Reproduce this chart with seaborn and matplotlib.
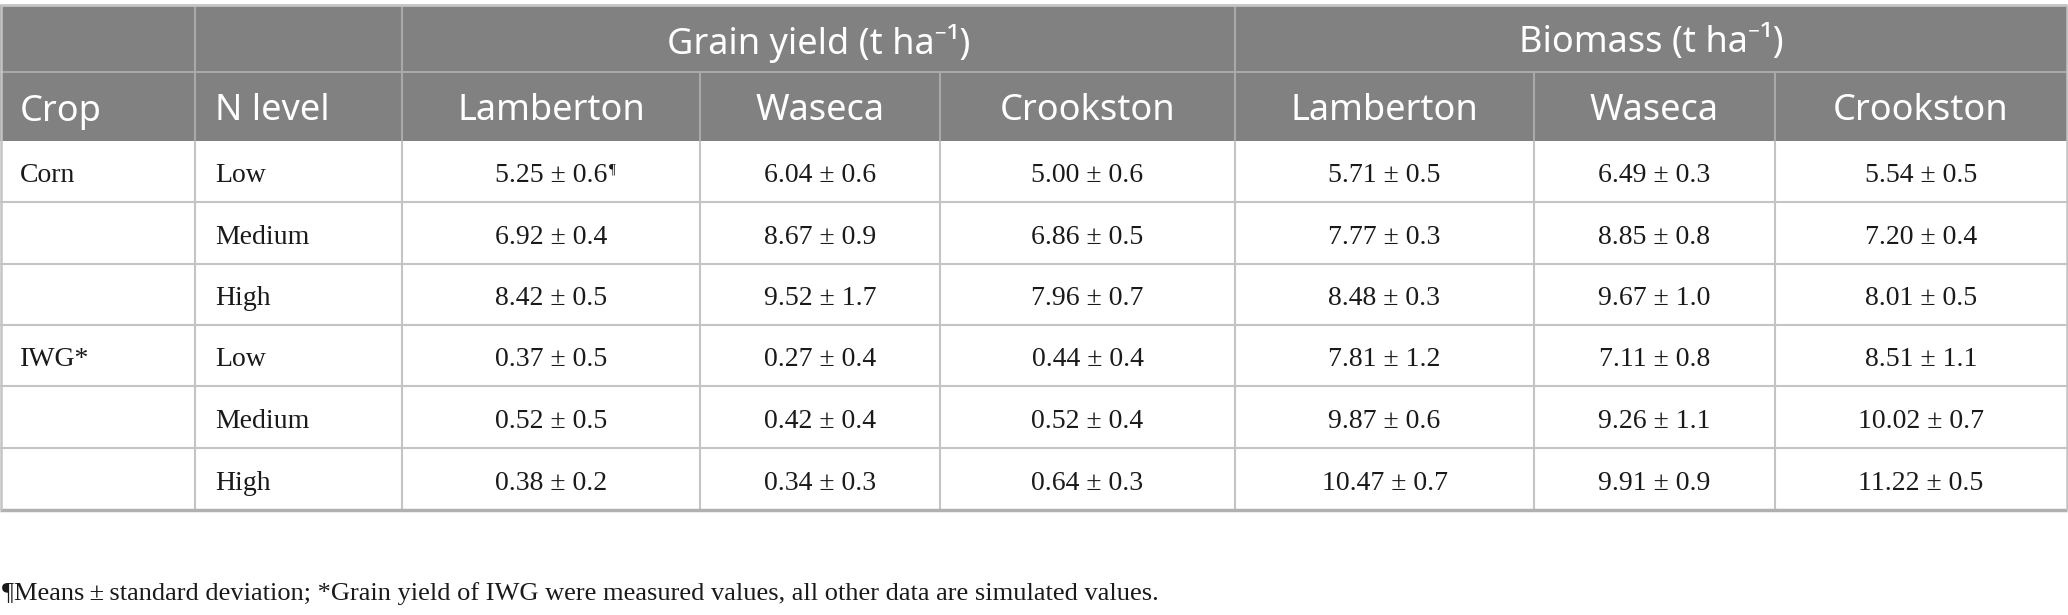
import matplotlib
matplotlib.use("Agg")
import matplotlib.pyplot as plt
import seaborn as sns

# ---- table content ----
crops = ["Corn", "", "", "IWG*", "", ""]
n_levels = ["Low", "Medium", "High", "Low", "Medium", "High"]
sites = ["Lamberton", "Waseca", "Crookston"]
groups = ["Grain yield (t ha\u207b\u00b9)", "Biomass (t ha\u207b\u00b9)"]

grain_mean = [[5.25, 6.04, 5.00],
              [6.92, 8.67, 6.86],
              [8.42, 9.52, 7.96],
              [0.37, 0.27, 0.44],
              [0.52, 0.42, 0.52],
              [0.38, 0.34, 0.64]]
grain_sd = [[0.6, 0.6, 0.6],
            [0.4, 0.9, 0.5],
            [0.5, 1.7, 0.7],
            [0.5, 0.4, 0.4],
            [0.5, 0.4, 0.4],
            [0.2, 0.3, 0.3]]
biomass_mean = [[5.71, 6.49, 5.54],
                [7.77, 8.85, 7.20],
                [8.48, 9.67, 8.01],
                [7.81, 7.11, 8.51],
                [9.87, 9.26, 10.02],
                [10.47, 9.91, 11.22]]
biomass_sd = [[0.5, 0.3, 0.5],
              [0.3, 0.8, 0.4],
              [0.3, 1.0, 0.5],
              [1.2, 0.8, 1.1],
              [0.6, 1.1, 0.7],
              [0.7, 0.9, 0.5]]

footnote = ("\u00b6Means\u2009\u00b1\u2009standard deviation; *Grain yield of IWG were "
            "measured values, all other data are simulated values.")

# ---- layout (pixels) ----
W, H = 2068, 615
col_edges = [0, 195, 402, 700, 940, 1235, 1534, 1775, 2067]
row_edges = [5, 72, 141, 202, 264, 325, 386, 448, 510]

header_bg = "#808180"
header_line = "#a8a9a8"
body_line = "#c4c4c4"

sns.set_theme(style="white")
sans = ["Noto Sans", "DejaVu Sans"]
serif = ["Liberation Serif", "DejaVu Serif"]

fig = plt.figure(figsize=(W / 100, H / 100), dpi=100)
ax = fig.add_axes([0, 0, 1, 1])
ax.set_xlim(0, W)
ax.set_ylim(H, 0)
ax.axis("off")

# header background
ax.add_patch(plt.Rectangle((col_edges[0], row_edges[0]), col_edges[-1] - col_edges[0],
                           row_edges[2] - row_edges[0], color=header_bg, lw=0))

# header lines
ax.hlines(row_edges[1], col_edges[0], col_edges[-1], color=header_line, lw=1.5)
for x in [col_edges[1], col_edges[2], col_edges[5]]:
    ax.vlines(x, row_edges[0], row_edges[2], color=header_line, lw=1.5)
for x in [col_edges[3], col_edges[4], col_edges[6], col_edges[7]]:
    ax.vlines(x, row_edges[1], row_edges[2], color=header_line, lw=1.5)

# body lines
for y in row_edges[3:-1]:
    ax.hlines(y, col_edges[0], col_edges[-1], color=body_line, lw=1.5)
for x in col_edges[1:-1]:
    ax.vlines(x, row_edges[2], row_edges[-1], color=body_line, lw=1.5)
# outer border
ax.hlines(row_edges[0], col_edges[0], col_edges[-1], color=body_line, lw=2)
ax.hlines(row_edges[-1], col_edges[0], col_edges[-1], color="#b0b0b0", lw=2.5)
ax.vlines([col_edges[0] + 0.8, col_edges[-1]], row_edges[0], row_edges[-1], color=body_line, lw=1.8)

pad = 20
hdr_fs = 26
body_fs = 20
dy_hdr = 5
dy_body = 4

# header text
y1 = (row_edges[0] + row_edges[1]) / 2 + dy_hdr
y2 = (row_edges[1] + row_edges[2]) / 2 + dy_hdr
ax.text((col_edges[2] + col_edges[5]) / 2, y1, groups[0], ha="center", va="center",
        color="white", fontsize=hdr_fs, family=sans)
ax.text((col_edges[5] + col_edges[8]) / 2, y1, groups[1], ha="center", va="center",
        color="white", fontsize=hdr_fs, family=sans)
ax.text(col_edges[0] + pad, y2, "Crop", ha="left", va="center", color="white",
        fontsize=hdr_fs, family=sans)
ax.text(col_edges[1] + pad, y2, "N level", ha="left", va="center", color="white",
        fontsize=hdr_fs, family=sans)
for g in range(2):
    for j, s in enumerate(sites):
        c = 2 + g * 3 + j
        ax.text((col_edges[c] + col_edges[c + 1]) / 2, y2, s, ha="center", va="center",
                color="white", fontsize=hdr_fs, family=sans)

# body text
for i in range(len(n_levels)):
    yc = (row_edges[i + 2] + row_edges[i + 3]) / 2 + dy_body
    ax.text(col_edges[0] + pad, yc, crops[i], ha="left", va="center", color="#1a1a1a",
            fontsize=body_fs, family=serif)
    ax.text(col_edges[1] + pad, yc, n_levels[i], ha="left", va="center", color="#1a1a1a",
            fontsize=body_fs, family=serif)
    for g, (means, sds) in enumerate([(grain_mean, grain_sd), (biomass_mean, biomass_sd)]):
        for j in range(3):
            c = 2 + g * 3 + j
            t = ax.text((col_edges[c] + col_edges[c + 1]) / 2, yc,
                        f"{means[i][j]:.2f} \u00b1 {sds[i][j]:.1f}", ha="center", va="center",
                        color="#1a1a1a", fontsize=body_fs, family=serif)
            if i == 0 and g == 0 and j == 0:
                ax.annotate("\u00b6", xy=(1, 1), xycoords=t, xytext=(1, 0),
                            textcoords="offset points", ha="left", va="top",
                            fontsize=11, family=serif, color="#1a1a1a")

ax.text(2, 594, footnote, ha="left", va="center", color="#1a1a1a", fontsize=19, family=serif)

fig.savefig("out.png", dpi=100)
